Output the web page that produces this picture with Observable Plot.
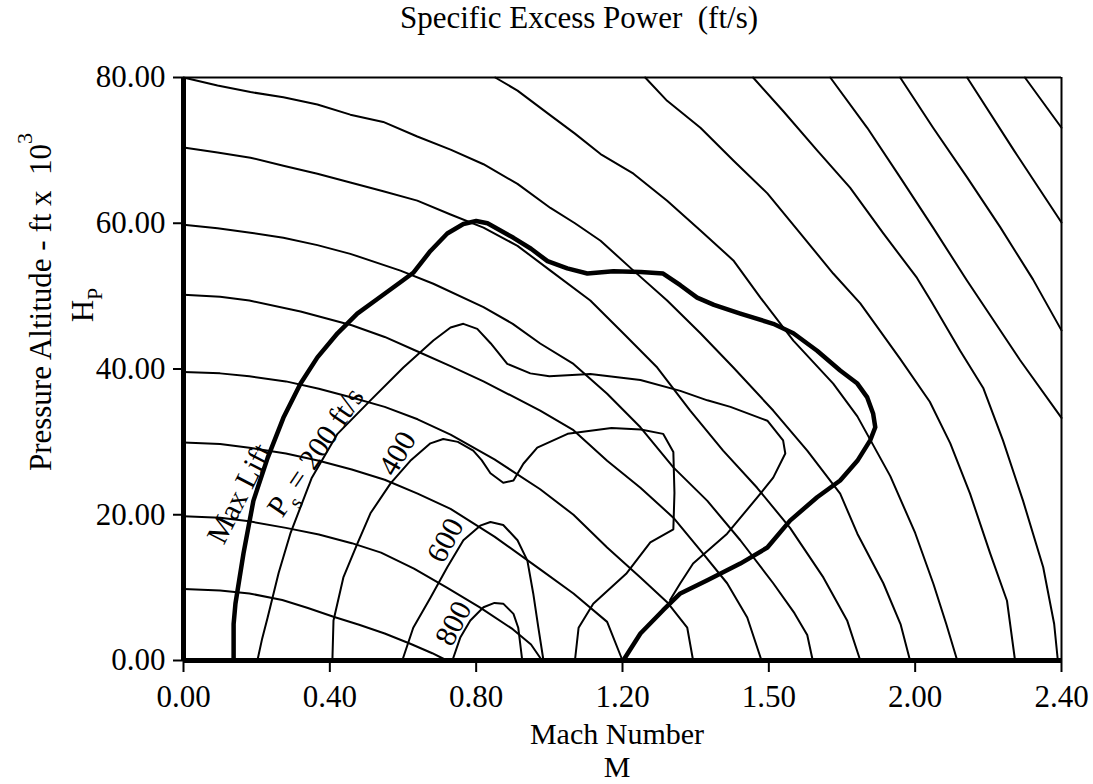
<!DOCTYPE html>
<html>
<head>
<meta charset="utf-8">
<script src="https://cdn.jsdelivr.net/npm/d3@7"></script>
<script src="https://cdn.jsdelivr.net/npm/@observablehq/plot@0.6"></script>
<style>
  html, body { margin: 0; padding: 0; background: #fff; }
  #chart svg { display: block; }
</style>
</head>
<body>
<div id="chart"></div>
<script>
// ---------- axis ticks ----------
const xTickValues = [0, 0.4, 0.8, 1.2, 1.6, 2.0, 2.4];
const xTickLabels = ["0.00", "0.40", "0.80", "1.20", "1.50", "2.00", "2.40"];
const yTickValues = [0, 20, 40, 60, 80];
const yTickLabels = ["0.00", "20.00", "40.00", "60.00", "80.00"];

// ---------- constant-energy lines: [Mach, altitude kft] ----------
const eLine10 = [[0,9.8],[0.1,9.6],[0.18,9.2],[0.27,8.3],[0.34,7.2],[0.41,6.0],[0.48,4.9],[0.55,3.7],[0.62,2.3],[0.68,1.0],[0.72,0]];
const eLine20 = [[0,19.8],[0.1,19.6],[0.18,19.1],[0.28,18.2],[0.37,17.3],[0.46,16.1],[0.54,14.8],[0.63,12.6],[0.72,10.0],[0.81,7.3],[0.9,4.3],[0.95,2.2],[0.98,0]];
const eLine30 = [[0,29.9],[0.1,29.7],[0.18,29.2],[0.28,28.4],[0.37,27.4],[0.46,26.2],[0.55,24.8],[0.64,22.9],[0.73,20.8],[0.85,17.0],[0.975,12.5],[1.066,9.2],[1.158,5.3],[1.2,0]];
const eLine40 = [[0,39.6],[0.1,39.4],[0.18,39.0],[0.28,38.3],[0.37,37.3],[0.46,36.1],[0.55,34.8],[0.64,33.1],[0.73,31.0],[0.85,27.6],[0.975,23.5],[1.066,20.0],[1.158,15.5],[1.249,11.4],[1.322,8.0],[1.377,4.5],[1.393,0]];
const eLine50 = [[0,50.2],[0.1,49.9],[0.18,49.4],[0.32,47.9],[0.46,46.0],[0.55,44.4],[0.64,42.4],[0.73,40.4],[0.82,38.3],[0.975,34.3],[1.066,31.6],[1.158,27.4],[1.249,23.7],[1.339,19.6],[1.413,15.1],[1.486,10.6],[1.541,5.9],[1.58,0]];
const eLine60 = [[0,59.8],[0.093,59.3],[0.183,58.7],[0.273,58.0],[0.366,57.0],[0.456,55.8],[0.593,53.5],[0.683,51.7],[0.82,48.5],[0.9,46.2],[0.975,43.5],[1.066,40.7],[1.158,36.6],[1.249,32.0],[1.339,26.5],[1.432,21.9],[1.522,16.5],[1.612,10.6],[1.67,6.5],[1.705,3.5],[1.72,0]];
const eLine70 = [[0,70.4],[0.093,69.7],[0.183,69.0],[0.273,67.9],[0.366,66.8],[0.456,65.6],[0.546,64.4],[0.639,63.1],[0.73,61.2],[0.82,59.4],[0.913,56.9],[1.003,53.5],[1.112,49.4],[1.202,44.9],[1.295,40.2],[1.385,34.3],[1.475,28.8],[1.568,23.7],[1.658,18.2],[1.749,11.4],[1.814,5.5],[1.85,0]];
const eLine80 = [[0,80],[0.093,78.9],[0.183,78.0],[0.273,77.3],[0.366,76.3],[0.456,74.9],[0.546,73.9],[0.639,71.9],[0.73,70.1],[0.82,68.1],[0.913,65.4],[1.003,62.1],[1.07,60.0],[1.14,57.6],[1.23,53.5],[1.322,49.4],[1.413,44.9],[1.503,40.2],[1.612,34.3],[1.705,28.8],[1.795,22.9],[1.842,17.4],[1.913,10.6],[1.96,5.0],[1.986,0]];
const eLine90 = [[0.852,80],[0.913,78.2],[1.003,74.8],[1.07,72.3],[1.14,69.5],[1.23,66.8],[1.322,63.1],[1.413,59.0],[1.503,54.9],[1.577,49.8],[1.667,43.9],[1.776,38.0],[1.842,33.5],[1.932,25.3],[2.0,17.5],[2.05,10.5],[2.085,5.0],[2.115,0]];
const eLine100 = [[1.262,80],[1.322,76.8],[1.413,73.1],[1.503,68.6],[1.596,64.1],[1.686,58.6],[1.776,53.1],[1.85,49.0],[1.959,41.4],[2.04,35.5],[2.096,29.8],[2.15,22.9],[2.205,14.7],[2.251,8.2],[2.273,0]];
const eLine110 = [[1.557,80],[1.639,75.4],[1.732,70.0],[1.822,64.9],[1.913,58.6],[2.005,52.5],[2.045,49.2],[2.123,42.5],[2.186,37.4],[2.24,30.2],[2.295,21.9],[2.35,12.8],[2.38,5.0],[2.39,0]];
const eLine120 = [[1.768,80],[1.869,73.1],[1.959,66.3],[2.049,59.4],[2.142,52.1],[2.21,47.0],[2.287,41.2],[2.4,33.3]];
const eLine130 = [[1.959,80],[2.049,73.1],[2.142,66.3],[2.232,59.5],[2.322,52.3],[2.4,45.3]];
const eLine140 = [[2.142,80],[2.27,70.0],[2.4,60.1]];
const eLine150 = [[2.30,80],[2.4,73.1]];

// ---------- specific excess power contours ----------
const ps200 = [[0.202,0],[0.215,3],[0.23,5.9],[0.26,12.0],[0.292,17.4],[0.35,25.0],[0.421,31.1],[0.511,35.7],[0.601,40.2],[0.683,43.9],[0.73,45.7],[0.765,46.2],[0.803,45.5],[0.84,43.5],[0.885,40.7],[0.948,39.4],[1.0,39.0],[1.112,39.3],[1.249,38.5],[1.358,37.0],[1.432,35.7],[1.495,34.8],[1.596,32.9],[1.639,30.2],[1.645,28.4],[1.612,25.1],[1.577,22.9],[1.486,17.4],[1.393,13.3],[1.358,10.6],[1.33,8.3]];
const ps400 = [[0.407,0],[0.41,5.5],[0.437,11.4],[0.475,16.0],[0.511,20.2],[0.566,24.3],[0.62,27.4],[0.675,29.8],[0.71,30.4],[0.75,30.0],[0.792,28.8],[0.815,27.5],[0.839,25.7],[0.874,24.4],[0.902,24.7],[0.929,27.0],[0.967,29.2],[1.05,31.1],[1.17,31.9],[1.25,31.7],[1.311,31.1],[1.339,28.6],[1.342,23.0],[1.339,18.0],[1.276,16.2],[1.21,11.9],[1.12,7.8],[1.08,4.5],[1.07,0]];
const ps600 = [[0.598,0],[0.628,4.5],[0.675,8.6],[0.721,12.8],[0.765,16.5],[0.811,18.5],[0.839,19.0],[0.874,18.6],[0.913,16.5],[0.94,13.7],[0.956,9.2],[0.97,4.5],[0.984,0]];
const ps800 = [[0.735,0],[0.757,3.2],[0.784,5.5],[0.82,7.3],[0.85,7.9],[0.874,7.8],[0.902,6.4],[0.915,4.5],[0.926,0]];

// ---------- max lift / Ps = 0 boundary (thick) ----------
const envelope = [[0.137,0],[0.137,5],[0.142,7.8],[0.164,14.7],[0.191,21.9],[0.23,27.8],[0.273,33.3],[0.32,38.0],[0.366,41.6],[0.421,44.9],[0.475,47.6],[0.53,49.6],[0.59,51.8],[0.628,53.2],[0.675,56.2],[0.721,58.6],[0.765,59.9],[0.8,60.3],[0.831,60.0],[0.902,58.0],[0.95,56.5],[0.995,54.8],[1.049,53.8],[1.104,53.1],[1.175,53.4],[1.25,53.3],[1.311,53.1],[1.358,51.5],[1.404,49.8],[1.45,48.8],[1.522,47.6],[1.612,46.2],[1.667,44.9],[1.732,42.5],[1.795,39.8],[1.842,38.0],[1.869,36.1],[1.885,33.9],[1.891,32.0],[1.877,30.2],[1.842,27.4],[1.795,24.7],[1.732,22.4],[1.658,19.2],[1.596,15.5],[1.522,13.3],[1.432,11.0],[1.358,9.2],[1.311,6.9],[1.249,3.7],[1.202,0]];

// ---------- in-plot labels ----------
const labelText  = ["Max Lift", "Ps = 200 ft/s", "400", "600", "800"];
const labelMach  = [0.153, 0.361, 0.585, 0.716, 0.738];
const labelAlt   = [22.9, 28.6, 28.4, 16.5, 5.1];
const labelAngle = [-63, -56, -60, -62, -63];

// ---------- build tables ----------
const toRows = (lines, prefix) =>
  lines.flatMap((pts, i) => pts.map(([m, h]) => ({mach: m, alt: h, id: prefix + i})));
const energyRows = toRows([eLine10, eLine20, eLine30, eLine40, eLine50, eLine60, eLine70, eLine80,
  eLine90, eLine100, eLine110, eLine120, eLine130, eLine140, eLine150], "e");
const psRows = toRows([ps200, ps400, ps600, ps800], "p");
const envRows = toRows([envelope], "b");
const labelRows = labelText.map((t, i) => ({text: t, mach: labelMach[i], alt: labelAlt[i], angle: labelAngle[i]}));

const fmtX = d => xTickLabels[xTickValues.findIndex(v => Math.abs(v - d) < 1e-9)];
const fmtY = d => yTickLabels[yTickValues.findIndex(v => Math.abs(v - d) < 1e-9)];

const FONT = "Liberation Serif, Times New Roman, Times, serif";

const chart = Plot.plot({
  width: 1093,
  height: 784,
  marginLeft: 183,
  marginRight: 32,
  marginTop: 77,
  marginBottom: 124,
  x: {domain: [0, 2.4]},
  y: {domain: [0, 80]},
  style: {fontFamily: FONT, fontSize: "31px", background: "white", color: "black"},
  marks: [
    Plot.line(energyRows, {x: "mach", y: "alt", z: "id", stroke: "black", strokeWidth: 2, strokeLinejoin: "round"}),
    Plot.line(psRows, {x: "mach", y: "alt", z: "id", stroke: "black", strokeWidth: 2, strokeLinejoin: "round"}),
    Plot.line(envRows, {x: "mach", y: "alt", z: "id", stroke: "black", strokeWidth: 4.5, strokeLinejoin: "round"}),
    Plot.text(labelRows, {x: "mach", y: "alt", text: "text", rotate: "angle", fontSize: 30, fontFamily: FONT, fill: "black"}),
    Plot.ruleY([80], {stroke: "black", strokeWidth: 2}),
    Plot.ruleX([2.4], {stroke: "black", strokeWidth: 2}),
    Plot.ruleX([0], {stroke: "black", strokeWidth: 5}),
    Plot.ruleY([0], {stroke: "black", strokeWidth: 5}),
    Plot.axisX({ticks: xTickValues, tickFormat: fmtX, tickSize: 12, tickPadding: 12, strokeWidth: 2, fontSize: 31, fontFamily: FONT, label: null}),
    Plot.axisY({ticks: yTickValues, tickFormat: fmtY, tickSize: 10, tickPadding: 8, strokeWidth: 2, fontSize: 31, fontFamily: FONT, label: null})
  ]
});

document.getElementById("chart").appendChild(chart);

const svg = d3.select(chart);

// subscript in the Ps label
svg.selectAll("text").each(function () {
  const t = d3.select(this);
  if (this.textContent === "Ps = 200 ft/s") {
    t.selectAll("*").remove();
    t.text("");
    t.append("tspan").text("P");
    t.append("tspan").attr("dy", 9).attr("font-size", 21).text("s");
    t.append("tspan").attr("dy", -9).text("\u00A0= 200 ft/s");
  }
});

// title
svg.append("text")
  .attr("x", 579).attr("y", 28)
  .attr("text-anchor", "middle")
  .attr("font-family", FONT).attr("font-size", 31).attr("fill", "black")
  .text("Specific Excess Power\u00A0 (ft/s)");

// x axis label (two lines)
svg.append("text")
  .attr("x", 617).attr("y", 744)
  .attr("text-anchor", "middle")
  .attr("font-family", FONT).attr("font-size", 30).attr("fill", "black")
  .text("Mach Number");
svg.append("text")
  .attr("x", 617).attr("y", 777)
  .attr("text-anchor", "middle")
  .attr("font-family", FONT).attr("font-size", 30).attr("fill", "black")
  .text("M");

// y axis label
const yl = svg.append("text")
  .attr("transform", "translate(51,302) rotate(-90)")
  .attr("text-anchor", "middle")
  .attr("font-family", FONT).attr("font-size", 31).attr("fill", "black");
yl.append("tspan").text("Pressure Altitude - ft x\u00A0 10");
yl.append("tspan").attr("dy", -19).attr("font-size", 22).text("3");

const hp = svg.append("text")
  .attr("transform", "translate(93,305) rotate(-90)")
  .attr("text-anchor", "middle")
  .attr("font-family", FONT).attr("font-size", 31).attr("fill", "black");
hp.append("tspan").text("H");
hp.append("tspan").attr("dy", 9).attr("font-size", 22).text("P");
</script>
</body>
</html>
